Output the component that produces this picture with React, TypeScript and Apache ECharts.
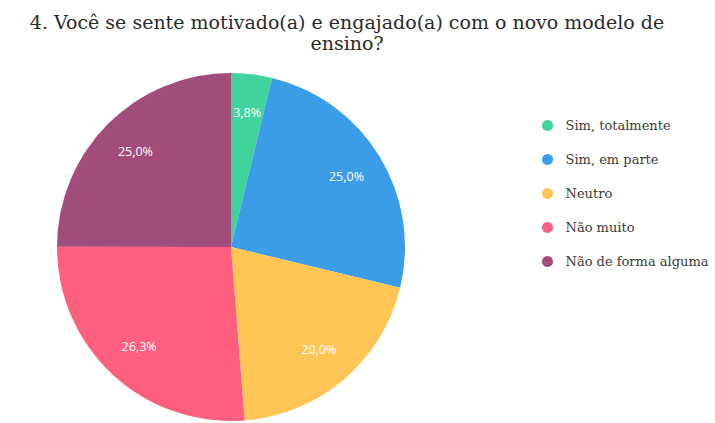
import React, { useEffect, useRef } from "react";
import * as echarts from "echarts";

const titleText = "4. Você se sente motivado(a) e engajado(a) com o novo modelo de\nensino?";
const categories = ["Sim, totalmente", "Sim, em parte", "Neutro", "Não muito", "Não de forma alguma"];
const values = [3.8, 25.0, 20.0, 26.3, 25.0];
const colors = ["#40d39b", "#3b9de8", "#ffc655", "#fe5f7e", "#a14c79"];

export default function App() {
  const ref = useRef<HTMLDivElement>(null);
  useEffect(() => {
    document.body.style.margin = "0";
    const chart = echarts.init(ref.current!, null, { renderer: "svg" });
    const data = categories.map((name, i) => ({ name, value: values[i] }));
    const R = 174;
    chart.setOption({
      animation: false,
      color: colors,
      graphic: [
        {
          type: "text",
          x: 347,
          y: 11,
          style: {
            text: titleText,
            fill: "#2a2a2a",
            font: "19px 'DejaVu Serif'",
            textAlign: "center",
            lineHeight: 21,
          },
        },
      ],
      legend: {
        orient: "vertical",
        left: 537,
        top: 114,
        icon: "circle",
        itemWidth: 26,
        itemHeight: 11,
        itemGap: 21,
        data: categories,
        textStyle: { fontFamily: "DejaVu Serif", fontSize: 13, color: "#3a3a3a" },
      },
      series: [
        {
          type: "pie",
          center: [231, 247],
          radius: [0, R],
          startAngle: 90,
          clockwise: true,
          data,
          label: { show: false },
          labelLine: { show: false },
          itemStyle: { borderWidth: 0 },
          emphasis: { disabled: true },
        },
        {
          type: "pie",
          center: [231, 247],
          radius: [0, R * 1.52],
          startAngle: 90,
          clockwise: true,
          silent: true,
          data,
          itemStyle: { color: "rgba(0,0,0,0)", borderWidth: 0 },
          label: {
            show: true,
            position: "inside",
            color: "#ffffff",
            fontFamily: "Open Sans",
            fontSize: 12.5,
            formatter: (p: any) => p.value.toFixed(1).replace(".", ",") + "%",
          },
          labelLine: { show: false },
          emphasis: { disabled: true },
        },
      ],
    });
    return () => chart.dispose();
  }, []);
  return <div ref={ref} style={{ width: 715, height: 423, position: "absolute", left: 0, top: 0 }} />;
}
